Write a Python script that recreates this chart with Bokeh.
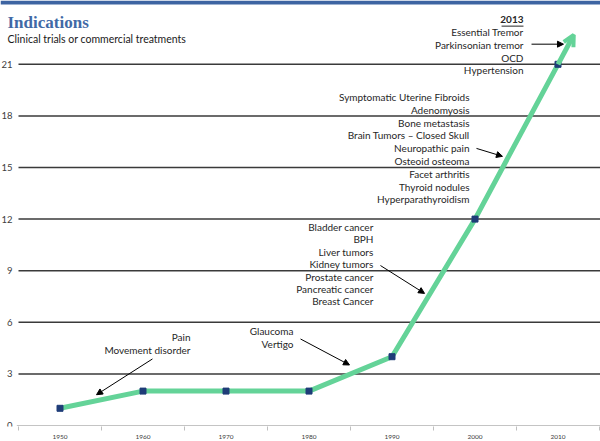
from bokeh.plotting import figure
from bokeh.models import FixedTicker, Label, Arrow, OpenHead, NormalHead, BoxAnnotation, ColumnDataSource
from bokeh.embed import file_html
from bokeh.resources import INLINE
from bokeh.core.properties import value

# ---------------- data ----------------
years = ["1950", "1960", "1970", "1980", "1990", "2000", "2010"]
indications = [1, 2, 2, 2, 4, 12, 21]
y_ticks = [0, 3, 6, 9, 12, 15, 18, 21]

notes_2013 = ["Essential Tremor", "Parkinsonian tremor", "OCD", "Hypertension"]
notes_2000s = ["Symptomatic Uterine Fibroids", "Adenomyosis", "Bone metastasis",
               "Brain Tumors \u2013 Closed Skull", "Neuropathic pain", "Osteoid osteoma",
               "Facet arthritis", "Thyroid nodules", "Hyperparathyroidism"]
notes_1990s = ["Bladder cancer", "BPH", "Liver tumors", "Kidney tumors",
               "Prostate cancer", "Pancreatic cancer", "Breast Cancer"]
notes_1980s = ["Glaucoma", "Vertigo"]
notes_1950s = ["Pain", "Movement disorder"]

# ---------------- styles ----------------
GREEN = "#64d398"
NAVY = "#1f3c78"
BLUE = "#3d64a2"
FONT = "Lato"
TXT = "#262626"

xs = list(range(len(years)))
X0, X1 = -0.7169, 6.512
Y0, Y1 = -0.058, 24.71

p = figure(width=600, height=441, output_backend="svg", toolbar_location=None,
           x_range=(X0, X1), y_range=(Y0, Y1),
           min_border_left=0, min_border_right=0, min_border_top=0, min_border_bottom=12)
p.outline_line_color = None
p.background_fill_color = "white"
p.yaxis.visible = False
p.xgrid.grid_line_color = None
p.ygrid.grid_line_color = None

# x axis: labels at centres, small ticks at category boundaries
p.xaxis.ticker = FixedTicker(ticks=xs, minor_ticks=[i - 0.5 for i in range(len(years) + 1)])
p.xaxis.major_label_overrides = {i: y for i, y in enumerate(years)}
p.xaxis.major_tick_line_color = None
p.xaxis.minor_tick_line_color = "#bfbfbf"
p.xaxis.minor_tick_out = 4
p.xaxis.minor_tick_in = 0
p.xaxis.axis_line_color = None
p.xaxis.major_label_text_font = FONT
p.xaxis.major_label_text_font_size = "6.5px"
p.xaxis.major_label_text_color = "#404040"
p.xaxis.major_label_standoff = 2

# top blue rule
p.add_layout(BoxAnnotation(bottom=Y1 - 0.23, fill_color=BLUE, fill_alpha=1, line_color=None))

# horizontal gridlines + baseline + y tick labels
grid = [t for t in y_ticks if t > 0]
p.segment(x0=[-0.5] * len(grid), y0=grid, x1=[X1] * len(grid), y1=grid,
          line_color="#3a3a3a", line_width=1.5)
p.segment(x0=[-0.52], y0=[0], x1=[X1], y1=[0], line_color="#c4c4c4", line_width=1)
p.text(x=[-0.572] * len(y_ticks), y=y_ticks, text=[str(t) for t in y_ticks],
       text_align="right", text_baseline="middle", text_font=value(FONT),
       text_font_size="9.5px", text_color="#404040")

# main series
src = ColumnDataSource(dict(x=xs, y=indications, year=years))
p.line("x", "y", source=src, line_color=GREEN, line_width=5)
ext = 0.19
x_last, y_last = xs[-1], indications[-1]
slope = indications[-1] - indications[-2]
p.add_layout(Arrow(x_start=x_last, y_start=y_last, x_end=x_last + ext, y_end=y_last + ext * slope,
                   line_color=GREEN, line_width=5,
                   end=OpenHead(size=11, line_color=GREEN, line_width=4)))
p.scatter("x", "y", source=src, marker="square", size=6, fill_color=NAVY, line_color=NAVY)


def note_block(lines, x, y0, step):
    p.text(x=[x] * len(lines), y=[y0 - i * step for i in range(len(lines))], text=lines,
           text_align="right", text_baseline="middle", text_font=value(FONT),
           text_font_size="10px", text_color=TXT)


note_block(notes_2013, 5.584, 22.85, 0.73)
note_block(notes_2000s, 4.934, 19.10, 0.744)
note_block(notes_1990s, 3.777, 11.54, 0.72)
note_block(notes_1980s, 2.813, 5.48, 0.75)
note_block(notes_1950s, 1.572, 5.13, 0.75)

p.text(x=[5.584], y=[23.62], text=["2013"], text_align="right", text_baseline="middle",
       text_font=value(FONT), text_font_size="10px", text_font_style="bold", text_color=TXT)
p.segment(x0=[5.32], y0=[23.22], x1=[5.584], y1=[23.22], line_color=TXT, line_width=1)


def pointer(x0, y0, x1, y1):
    p.add_layout(Arrow(x_start=x0, y_start=y0, x_end=x1, y_end=y1, line_color="black", line_width=1,
                       end=NormalHead(size=6, fill_color="black", line_color="black")))


pointer(5.681, 22.17, 6.066, 22.17)
pointer(5.018, 16.11, 5.331, 15.65)
pointer(3.861, 9.30, 4.392, 7.68)
pointer(2.898, 5.03, 3.488, 3.52)
pointer(1.114, 3.87, 0.440, 1.79)

p.add_layout(Label(x=-0.6325, y=23.42, text="Indications", text_font="Liberation Serif",
                   text_font_style="bold", text_font_size="17px", text_color="#4169a6",
                   text_baseline="middle"))
p.add_layout(Label(x=-0.6325, y=22.5, text="Clinical trials or commercial treatments",
                   text_font=FONT, text_font_size="10.5px", text_color="#1a1a1a",
                   text_baseline="middle"))

open("out.html", "w").write(file_html(p, INLINE))
